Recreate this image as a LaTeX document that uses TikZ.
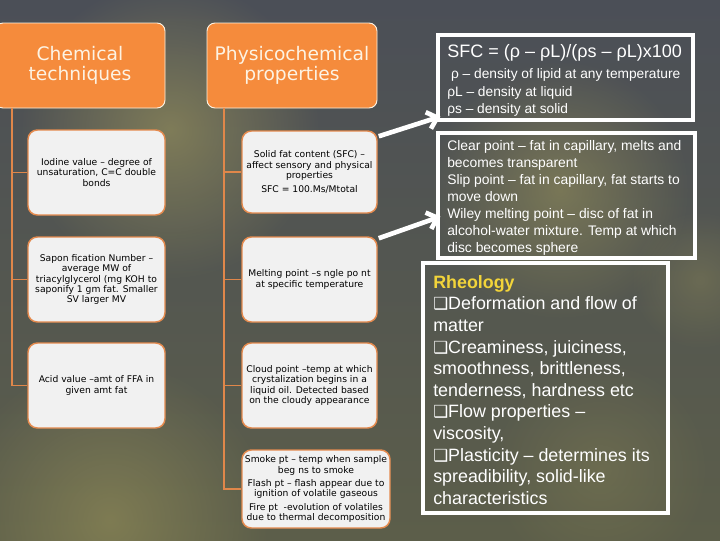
\documentclass[tikz,border=0pt]{standalone}
\usepackage{fontspec}
\setmainfont{Liberation Sans}
\newfontfamily\verd{DejaVu Sans}
\usetikzlibrary{arrows.meta,calc,fadings}
\definecolor{bgA}{HTML}{4B4F57}
\definecolor{bgB}{HTML}{5C5E4A}
\definecolor{glowc}{HTML}{A49C5C}
\definecolor{orangeT}{HTML}{F58B3C}
\definecolor{creamT}{HTML}{FDF3E3}
\definecolor{childfill}{HTML}{F1F1F1}
\definecolor{orangeB}{HTML}{E48A4E}
\definecolor{connc}{HTML}{E0874A}
\definecolor{rheoY}{HTML}{F2D43A}
\tikzfading[name=glowfade, inner color=transparent!20, outer color=transparent!100]
\newcommand{\bulletsq}{{\verd\fontsize{12.5}{12}\selectfont ❑}}
\begin{document}
\begin{tikzpicture}[x=0.75pt,y=-0.75pt,
  titlebox/.style={rounded corners=6pt, fill=orangeT, draw=creamT, line width=0.7pt,
    text=creamT, font=\verd\fontsize{14}{15}\selectfont, align=center, inner sep=0pt},
  childbox/.style={rounded corners=7pt, fill=childfill, draw=orangeB, line width=1.1pt,
    text=black, font=\verd\fontsize{6.9}{7.6}\selectfont, align=center, inner sep=1pt},
  framebox/.style={draw=white, line width=2.3pt, inner sep=0pt},
  conn/.style={draw=connc, line width=0.8pt},
  bigarrow/.style={draw=white, line width=3.5pt, -{Straight Barb[length=7pt,width=13pt]}},
  bodytext/.style={text=white, align=left, inner sep=0pt, anchor=north west}
]
\useasboundingbox (0,0) rectangle (720,540);
% background
\shade[top color=bgA, bottom color=bgB] (0,0) rectangle (720,540);
\fill[glowc, path fading=glowfade, opacity=0.7] (170,130) circle (150);
\fill[glowc, path fading=glowfade, opacity=0.6] (560,190) circle (130);
\fill[glowc, path fading=glowfade, opacity=0.6] (110,520) circle (160);
\fill[glowc, path fading=glowfade, opacity=0.35] (700,280) circle (70);
\fill[glowc, path fading=glowfade, opacity=0.3] (600,470) circle (110);

% title boxes
\node[titlebox, minimum width=127.5pt, minimum height=63.75pt] (chem) at (80,65.5) {Chemical\\techniques};
\node[titlebox, minimum width=127.5pt, minimum height=63.75pt] (phys) at (292,65.5) {Physicochemical\\properties};

% left children
\node[childbox, minimum width=102.75pt, minimum height=63.75pt] (L1) at (96.5,172.5)
  {Iodine value – degree of\\unsaturation, C=C double\\bonds};
\node[childbox, minimum width=102.75pt, minimum height=63.75pt] (L2) at (96.5,279.5)
  {Sapon fication Number –\\average MW of\\triacylglycerol (mg KOH to\\saponify 1 gm fat. Smaller\\SV larger MV};
\node[childbox, minimum width=102.75pt, minimum height=63.75pt] (L3) at (96.5,385.5)
  {Acid value –amt of FFA in\\given amt fat};

% right children
\node[childbox, minimum width=101.25pt, minimum height=61.5pt] (R1) at (309.5,172)
  {Solid fat content (SFC) –\\affect sensory and physical\\properties\\[3pt]SFC = 100.Ms/Mtotal};
\node[childbox, minimum width=101.25pt, minimum height=63.75pt] (R2) at (309.5,279.5)
  {Melting point –s ngle po nt\\at specific temperature};
\node[childbox, minimum width=101.25pt, minimum height=63.75pt] (R3) at (309.5,385.5)
  {Cloud point –temp at which\\crystalization begins in a\\liquid oil. Detected based\\on the cloudy appearance};
\node[childbox, minimum width=111pt, minimum height=58.5pt] (R4) at (316,489)
  {Smoke pt – temp when sample\\beg ns to smoke\\[2.5pt]Flash pt – flash appear due to\\ignition of volatile gaseous\\[2.5pt]Fire pt \ -evolution of volatiles\\due to thermal decomposition};

% connectors
\coordinate (lv) at (12,108);
\coordinate (rv) at (224,108);
\draw[conn] (lv) |- (L3.west);
\draw[conn] (lv |- L1.west) -- (L1.west);
\draw[conn] (lv |- L2.west) -- (L2.west);
\draw[conn] (rv) |- (R4.west);
\draw[conn] (rv |- R1.west) -- (R1.west);
\draw[conn] (rv |- R2.west) -- (R2.west);
\draw[conn] (rv |- R3.west) -- (R3.west);

% framed text boxes
\node[framebox, minimum width=191.25pt, minimum height=63.75pt] (sfc) at (565.5,77.5) {};
\node[framebox, minimum width=192.75pt, minimum height=93.75pt] (clear) at (566.5,195.5) {};
\node[framebox, minimum width=183.75pt, minimum height=187.5pt] (rheo) at (545.5,388) {};

\node[bodytext, font=\fontsize{10.3}{13.1}\selectfont] (sfct) at (447,44)
  {{\fontsize{13.5}{16}\selectfont SFC = (ρ – ρL)/(ρs – ρL)x100}\\[3pt]
   \ ρ – density of lipid at any temperature\\
   ρL – density at liquid\\
   ρs – density at solid};
\node[bodytext, font=\fontsize{10.4}{12.75}\selectfont] (cleart) at (447,140)
  {Clear point – fat in capillary, melts and\\
   becomes transparent\\
   Slip point – fat in capillary, fat starts to\\
   move down\\
   Wiley melting point – disc of fat in\\
   alcohol-water mixture. Temp at which\\
   disc becomes sphere};
\node[bodytext, font=\fontsize{13.4}{16.2}\selectfont] (rheot) at (433,275)
  {{\bfseries\color{rheoY}Rheology}\\
   \bulletsq Deformation and flow of\\
   matter\\
   \bulletsq Creaminess, juiciness,\\
   smoothness, brittleness,\\
   tenderness, hardness etc\\
   \bulletsq Flow properties –\\
   viscosity,\\
   \bulletsq Plasticity – determines its\\
   spreadibility, solid-like\\
   characteristics};

% arrows
\draw[bigarrow] ($(R1.north east)+(1,6)$) -- ($(sfc.south west)+(4,-5)$);
\draw[bigarrow] ($(R2.north east)+(1,2)$) -- ($(clear.south west)+(4,-43)$);
\end{tikzpicture}
\end{document}
